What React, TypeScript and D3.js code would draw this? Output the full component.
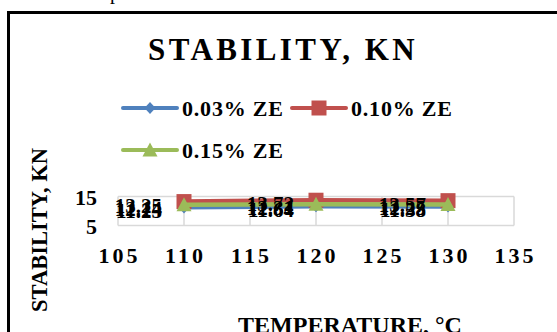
import { useEffect, useRef } from "react";
import * as d3 from "d3";

const temps = [110, 120, 130];
const ze003 = [11.25, 11.64, 11.58];
const ze010 = [13.25, 13.72, 13.57];
const ze015 = [12.14, 12.31, 12.25];
const xTicks = [105, 110, 115, 120, 125, 130, 135];
const yTicks = [5, 15];

const series = [
  { name: "0.03% ZE", values: ze003, color: "#4F81BD", marker: "diamond" },
  { name: "0.10% ZE", values: ze010, color: "#C0504D", marker: "square" },
  { name: "0.15% ZE", values: ze015, color: "#9BBB59", marker: "triangle" },
];

const FONT = "'Liberation Serif', 'Times New Roman', serif";

function markerPath(kind: string) {
  if (kind === "diamond") return "M0,-6L5.5,0L0,6L-5.5,0Z";
  if (kind === "square") return "M-7.5,-7.5H7.5V7.5H-7.5Z";
  return "M0,-7.5L7.5,6.5H-7.5Z";
}

export default function App() {
  const ref = useRef<SVGSVGElement>(null);

  useEffect(() => {
    const width = 557;
    const height = 332;
    const svg = d3.select(ref.current);
    svg.selectAll("*").remove();
    svg.attr("viewBox", `0 0 ${width} ${height}`);

    svg.append("rect").attr("width", width).attr("height", height).attr("fill", "#fff");

    // stray text from the page above
    svg
      .append("text")
      .attr("x", 110)
      .attr("y", -1)
      .attr("font-family", FONT)
      .attr("font-size", 20)
      .text("p");

    // outer frame
    svg
      .append("rect")
      .attr("x", 8.5)
      .attr("y", 12.5)
      .attr("width", 600)
      .attr("height", 400)
      .attr("fill", "none")
      .attr("stroke", "#000")
      .attr("stroke-width", 3);

    const x = d3.scaleLinear().domain([105, 135]).range([118, 514]);
    const y = d3.scaleLinear().domain([5, 15]).range([225.5, 196.5]);

    // title
    svg
      .append("text")
      .attr("x", 283)
      .attr("y", 60)
      .attr("text-anchor", "middle")
      .attr("font-family", FONT)
      .attr("font-weight", "bold")
      .attr("font-size", 31)
      .style("letter-spacing", "3.4px")
      .text("STABILITY, KN");

    // legend
    const legendPos = [
      { x: 123, y: 108 },
      { x: 292, y: 108 },
      { x: 123, y: 150 },
    ];
    series.forEach((s, i) => {
      const p = legendPos[i];
      const g = svg.append("g").attr("transform", `translate(${p.x},${p.y})`);
      g.append("line")
        .attr("x1", 0)
        .attr("x2", 54)
        .attr("stroke", s.color)
        .attr("stroke-width", 4)
        .attr("stroke-linecap", "round");
      g.append("path")
        .attr("transform", "translate(27,0)")
        .attr("d", markerPath(s.marker))
        .attr("fill", s.color);
      g.append("text")
        .attr("x", 59)
        .attr("y", 8)
        .attr("font-family", FONT)
        .attr("font-weight", "bold")
        .attr("font-size", 22)
        .style("letter-spacing", "0.8px")
        .text(s.name);
    });

    // grid
    const grid = svg.append("g").attr("stroke", "#d9d9d9").attr("stroke-width", 1.5);
    xTicks.forEach((t) => {
      grid.append("line").attr("x1", x(t)).attr("x2", x(t)).attr("y1", y(5)).attr("y2", y(15));
    });
    yTicks.forEach((t) => {
      grid.append("line").attr("x1", x(105)).attr("x2", x(135)).attr("y1", y(t)).attr("y2", y(t));
    });

    // tick labels
    svg
      .append("g")
      .selectAll("text")
      .data(xTicks)
      .join("text")
      .attr("x", (d) => x(d) + 1.5)
      .attr("y", 263)
      .attr("text-anchor", "middle")
      .attr("font-family", FONT)
      .attr("font-weight", "bold")
      .attr("font-size", 22)
      .style("letter-spacing", "3px")
      .text((d) => d);

    svg
      .append("g")
      .selectAll("text")
      .data(yTicks)
      .join("text")
      .attr("x", 97)
      .attr("y", (d) => y(d) + 8)
      .attr("text-anchor", "end")
      .attr("font-family", FONT)
      .attr("font-weight", "bold")
      .attr("font-size", 22)
      .text((d) => d);

    // axis titles
    svg
      .append("text")
      .attr("transform", "translate(47,230) rotate(-90)")
      .attr("text-anchor", "middle")
      .attr("font-family", FONT)
      .attr("font-weight", "bold")
      .attr("font-size", 22.5)
      .text("STABILITY, KN");

    svg
      .append("text")
      .attr("x", 350)
      .attr("y", 333)
      .attr("text-anchor", "middle")
      .attr("font-family", FONT)
      .attr("font-weight", "bold")
      .attr("font-size", 24)
      .text("TEMPERATURE, °C");

    // series
    const line = d3
      .line<number>()
      .x((_, i) => x(temps[i]))
      .y((d) => y(d));

    series.forEach((s) => {
      svg
        .append("path")
        .attr("d", line(s.values))
        .attr("fill", "none")
        .attr("stroke", s.color)
        .attr("stroke-width", 4.5);
      svg
        .append("g")
        .selectAll("path")
        .data(s.values)
        .join("path")
        .attr("transform", (d, i) => `translate(${x(temps[i])},${y(d)})`)
        .attr("d", markerPath(s.marker))
        .attr("fill", s.color);
    });

    // data labels (left of points)
    series.forEach((s) => {
      svg
        .append("g")
        .selectAll("text")
        .data(s.values)
        .join("text")
        .attr("x", (d, i) => x(temps[i]) - 22)
        .attr("y", (d) => y(d) + 11)
        .attr("text-anchor", "end")
        .attr("font-family", FONT)
        .attr("font-weight", "bold")
        .attr("font-size", 21)
        .text((d) => d);
    });
  }, []);

  return (
    <svg
      ref={ref}
      width={557}
      height={332}
      style={{ position: "fixed", left: 0, top: 0, display: "block" }}
    />
  );
}
